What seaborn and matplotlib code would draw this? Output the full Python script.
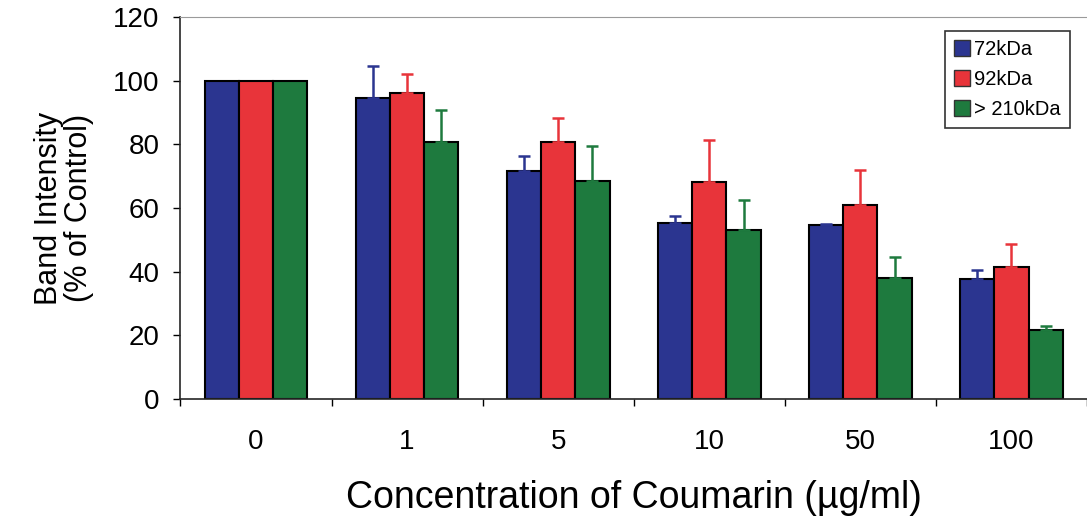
import numpy as np
import pandas as pd
import matplotlib.pyplot as plt
import seaborn as sns

# values
concentrations = ["0", "1", "5", "10", "50", "100"]
series = ["72kDa", "92kDa", "> 210kDa"]
kda72 = [100, 94.7, 71.7, 55.4, 54.7, 37.6]
kda92 = [100, 96.0, 80.8, 68.3, 61.0, 41.4]
kda210 = [100, 80.8, 68.5, 53.1, 38.1, 21.7]
err72 = [0, 10.0, 4.6, 2.0, 0.3, 2.8]
err92 = [0, 6.0, 7.4, 13.0, 11.0, 7.3]
err210 = [0, 10.0, 11.0, 9.4, 6.6, 1.2]

colors = ["#2b3590", "#e8343a", "#1e7a3e"]

df = pd.DataFrame({
    "conc": concentrations * 3,
    "kda": np.repeat(series, len(concentrations)),
    "value": kda72 + kda92 + kda210,
})

sns.set_style("ticks")
plt.rcParams["font.family"] = ["Liberation Sans", "DejaVu Sans"]
plt.rcParams["text.color"] = "black"
plt.rcParams["axes.labelcolor"] = "black"
plt.rcParams["xtick.color"] = "black"
plt.rcParams["ytick.color"] = "black"

fig, ax = plt.subplots(figsize=(10.87, 5.18), dpi=100)
fig.subplots_adjust(left=0.166, right=1.0, top=0.967, bottom=0.23)

sns.barplot(data=df, x="conc", y="value", hue="kda", order=concentrations,
            hue_order=series, palette=colors, width=0.68, edgecolor="black",
            linewidth=1.5, saturation=1, ax=ax, legend=False)

# upward-only error bars in the bar colour (none for the control group)
for cont, errs, col in zip(ax.containers, [err72, err92, err210], colors):
    xs = np.array([p.get_x() + p.get_width() / 2 for p in cont.patches])
    ys = np.array([p.get_height() for p in cont.patches])
    errs = np.array(errs)
    keep = errs > 0
    ax.errorbar(xs[keep], ys[keep], yerr=[np.zeros(keep.sum()), errs[keep]],
                fmt="none", ecolor=col, elinewidth=1.8, capsize=4,
                capthick=1.8, zorder=1)

ax.set_ylim(0, 120)
ax.set_yticks(range(0, 121, 20))
ax.set_xlim(-0.5, 5.5)
ax.set_xticks(np.arange(-0.5, 5.6, 1), minor=True)
ax.tick_params(axis="x", which="major", length=0, labelsize=20, pad=22)
ax.tick_params(axis="x", which="minor", length=5, width=1)
ax.tick_params(axis="y", labelsize=20, length=5, width=1, pad=10)

ax.set_xlabel("Concentration of Coumarin (µg/ml)", fontsize=27, labelpad=18)
ax.set_ylabel("Band Intensity\n(% of Control)", fontsize=22, labelpad=14,
              linespacing=1.0)

ax.spines["left"].set_linewidth(1.2)
ax.spines["bottom"].set_linewidth(1.2)
ax.spines["top"].set_color("#9a9a9a")
ax.spines["right"].set_visible(False)

handles = [plt.Rectangle((0, 0), 1, 1, facecolor=c, edgecolor="#333333") for c in colors]
leg = ax.legend(handles, series, loc="upper right", bbox_to_anchor=(0.992, 0.99),
                fontsize=14.5, frameon=True, fancybox=False, handlelength=0.8,
                handleheight=0.8, handletextpad=0.2, borderpad=0.45,
                labelspacing=0.55)
leg.get_frame().set_edgecolor("black")
leg.get_frame().set_linewidth(1.2)

fig.savefig("out.png", dpi=100)
